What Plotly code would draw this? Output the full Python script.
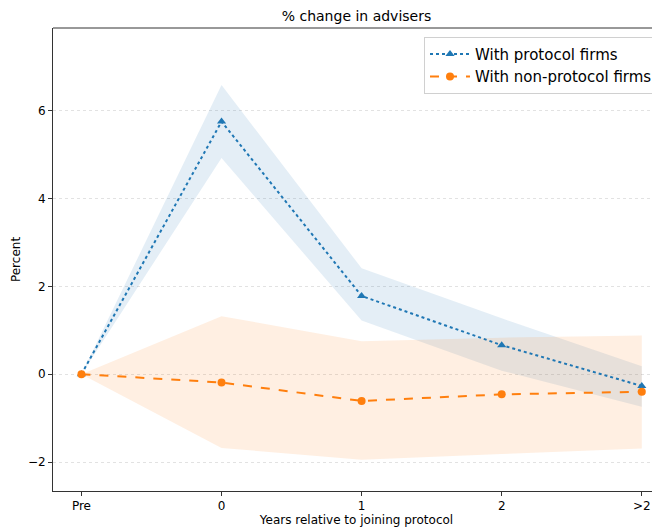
import plotly.graph_objects as go

categories = ["Pre", "0", "1", "2", ">2"]

protocol = [0.0, 5.75, 1.78, 0.66, -0.27]
protocol_lo = [0.0, 4.92, 1.22, 0.08, -0.74]
protocol_hi = [0.0, 6.58, 2.41, 1.27, 0.18]

nonprotocol = [0.0, -0.19, -0.61, -0.46, -0.40]
nonprotocol_lo = [0.0, -1.68, -1.95, -1.82, -1.69]
nonprotocol_hi = [0.0, 1.32, 0.75, 0.83, 0.88]

BLUE = "#1f77b4"
ORANGE = "#ff7f0e"
FONT = "DejaVu Sans"

fig = go.Figure()

fig.add_trace(go.Scatter(
    x=categories + categories[::-1],
    y=protocol_hi + protocol_lo[::-1],
    fill="toself", fillcolor="rgba(31,119,180,0.12)",
    line=dict(width=0), mode="lines", hoverinfo="skip", showlegend=False))
fig.add_trace(go.Scatter(
    x=categories + categories[::-1],
    y=nonprotocol_hi + nonprotocol_lo[::-1],
    fill="toself", fillcolor="rgba(255,127,14,0.12)",
    line=dict(width=0), mode="lines", hoverinfo="skip", showlegend=False))

fig.add_trace(go.Scatter(
    x=categories, y=protocol, name="With protocol firms",
    mode="lines+markers",
    line=dict(color=BLUE, width=2, dash="dot"),
    marker=dict(symbol="triangle-up", size=8, color=BLUE)))
fig.add_trace(go.Scatter(
    x=categories, y=nonprotocol, name="With non-protocol firms",
    mode="lines+markers",
    line=dict(color=ORANGE, width=2, dash="dash"),
    marker=dict(symbol="circle", size=8, color=ORANGE)))

fig.add_shape(type="line", xref="paper", yref="paper", x0=0, x1=1, y0=1, y1=1,
              line=dict(color="#333333", width=1))

fig.update_layout(
    width=652, height=520,
    margin=dict(l=45, r=0, t=20, b=37, autoexpand=False),
    paper_bgcolor="white", plot_bgcolor="white",
    font=dict(family=FONT, size=12, color="black"),
    title=dict(text="% change in advisers", x=0.5, xref="paper",
               y=1 - 8 / 520, yanchor="middle", automargin=False,
               font=dict(size=14, family=FONT, color="black")),
    xaxis=dict(
        type="category", range=[-0.203, 4.13], automargin=False,
        showline=True, linecolor="#333333", linewidth=1,
        ticks="outside", ticklen=4, tickcolor="#333333",
        showgrid=False, zeroline=False,
        tickfont=dict(size=12),
        title=dict(text="Years relative to joining protocol", font=dict(size=12), standoff=2)),
    yaxis=dict(
        range=[-2.66, 7.88], automargin=False,
        tickvals=[-2, 0, 2, 4, 6],
        showline=True, linecolor="#333333", linewidth=1,
        ticks="outside", ticklen=4, tickcolor="#333333",
        showgrid=True, gridcolor="#e2e2e2", griddash="dot", gridwidth=1,
        zeroline=False,
        tickfont=dict(size=12),
        title=dict(text="Percent", font=dict(size=12), standoff=4)),
    legend=dict(
        x=0.9967, y=0.981, xanchor="right", yanchor="top",
        bgcolor="white", bordercolor="#d0d0d0", borderwidth=1,
        font=dict(size=15, family=FONT, color="black"),
        itemwidth=40, tracegroupgap=0),
)

fig.write_html("out.html")
